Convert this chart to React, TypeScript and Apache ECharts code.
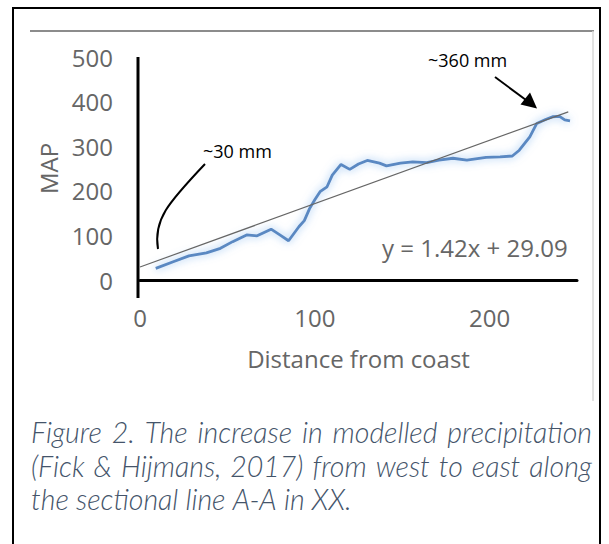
import React, { useEffect, useRef } from "react";
import * as echarts from "echarts";

// ---- data ----
const distance = [9, 19, 28, 38, 46, 53, 61, 67, 75, 80, 85, 91, 94, 97, 100, 103, 107, 110, 115, 120, 125, 130, 137, 141, 149, 156, 164, 171, 179, 187, 198, 206, 213, 217, 223, 227, 232, 236, 240, 243, 246];
const mapValues = [26, 41, 54, 61, 71, 86, 101, 99, 114, 101, 88, 120, 133, 160, 180, 198, 209, 235, 259, 248, 260, 268, 262, 256, 262, 265, 263, 269, 273, 269, 275, 276, 278, 291, 321, 351, 360, 366, 367, 359, 357];
const trendSlope = 1.42;
const trendIntercept = 29.09;
const trendRange = [0, 245];
const xTickLabels = ["0", "100", "200"];
const yTickLabels = ["0", "100", "200", "300", "400", "500"];
const equationText = "y = 1.42x + 29.09";
const lowNote = "~30 mm";
const highNote = "~360 mm";
const captionLines = [
  "Figure 2. The increase in modelled precipitation",
  "(Fick & Hijmans, 2017) from west to east along",
  "the sectional line A-A in XX.",
];

const CAPTION_FAMILY = "Lato";
const CAPTION_WEIGHT = 300;

function measureCtx(size: number) {
  const canvas = document.createElement("canvas");
  const ctx = canvas.getContext("2d") as CanvasRenderingContext2D;
  ctx.font = `italic ${CAPTION_WEIGHT} ${size}px ${CAPTION_FAMILY}`;
  return ctx;
}

function layoutLine(line: string, size: number, left: number, width: number, justify: boolean) {
  const ctx = measureCtx(size);
  const words = line.split(" ");
  const widths = words.map((w) => ctx.measureText(w).width);
  const total = widths.reduce((a, b) => a + b, 0);
  let gap = ctx.measureText(" ").width;
  if (justify && words.length > 1) gap = (width - total) / (words.length - 1);
  let x = left;
  return words.map((w, i) => {
    const item = { text: w, x };
    x += widths[i] + gap;
    return item;
  });
}

export default function App() {
  const ref = useRef<HTMLDivElement>(null);

  useEffect(() => {
    document.body.style.margin = "0";
    if (!ref.current) return;
    const chart = echarts.init(ref.current, undefined, { renderer: "svg" });

    const seriesData = distance.map((d, i) => [d, mapValues[i]]);
    const trendData = trendRange.map((x) => [x, trendSlope * x + trendIntercept]);

    // caption size chosen so the first line nearly fills the caption width
    const w100 = measureCtx(100).measureText(captionLines[0]).width;
    const capSize = Math.min(28.5, Math.max(18, (100 * 550) / w100));

    const captionY = [432, 466, 499];
    const captionTexts: any[] = [];
    captionLines.forEach((line, li) => {
      const words = layoutLine(line, capSize, 31, 561, li < captionLines.length - 1);
      words.forEach((w) => {
        captionTexts.push({
          type: "text",
          x: w.x,
          y: captionY[li],
          style: {
            text: w.text,
            fontSize: capSize,
            fontFamily: CAPTION_FAMILY,
            fontWeight: CAPTION_WEIGHT,
            fontStyle: "italic",
            fill: "#44546A",
            textAlign: "left",
            align: "left",
            textVerticalAlign: "middle",
            verticalAlign: "middle",
          },
        });
      });
    });

    const labelStyle = { color: "#666666", fontSize: 24, fontFamily: "Open Sans" };

    chart.setOption({
      animation: false,
      backgroundColor: "#ffffff",
      grid: { left: 140, right: 32, top: 57, bottom: 264, containLabel: false },
      xAxis: {
        type: "value",
        min: 0,
        max: 250,
        interval: 100,
        offset: 17,
        name: "Distance from coast",
        nameLocation: "middle",
        nameGap: 49,
        nameTextStyle: { color: "#666666", fontSize: 24, fontFamily: "Open Sans" },
        axisLine: { show: true, lineStyle: { color: "#000000", width: 3 } },
        axisTick: { show: false },
        splitLine: { show: false },
        axisLabel: {
          ...labelStyle,
          margin: 8,
          showMaxLabel: false,
          formatter: (v: number) => {
            const idx = xTickLabels.indexOf(String(v));
            return idx >= 0 ? xTickLabels[idx] : "";
          },
        },
      },
      yAxis: {
        type: "value",
        min: 0,
        max: 500,
        interval: 100,
        name: "MAP",
        nameLocation: "middle",
        nameGap: 80,
        nameRotate: 90,
        nameTextStyle: { color: "#666666", fontSize: 24, fontFamily: "Open Sans" },
        axisLine: { show: false },
        axisTick: { show: false },
        splitLine: { show: false },
        axisLabel: {
          ...labelStyle,
          margin: 27,
          formatter: (v: number) => {
            const idx = yTickLabels.indexOf(String(v));
            return idx >= 0 ? yTickLabels[idx] : "";
          },
        },
      },
      series: [
        {
          type: "line",
          name: "MAP",
          data: seriesData,
          showSymbol: false,
          symbol: "none",
          smooth: false,
          z: 2,
          lineStyle: {
            color: "#5a88c2",
            width: 2.8,
            shadowColor: "rgba(110,170,235,0.8)",
            shadowBlur: 8,
          },
        },
        {
          type: "line",
          name: "Trend",
          data: trendData,
          showSymbol: false,
          symbol: "none",
          z: 3,
          lineStyle: { color: "#666666", width: 1.2 },
        },
      ],
      graphic: [
        // outer black frame (no bottom edge visible)
        { type: "line", shape: { x1: 13, y1: 8, x2: 13, y2: 560 }, style: { stroke: "#000", lineWidth: 2 } },
        { type: "line", shape: { x1: 12, y1: 8, x2: 601, y2: 8 }, style: { stroke: "#000", lineWidth: 2 } },
        { type: "line", shape: { x1: 600, y1: 8, x2: 600, y2: 560 }, style: { stroke: "#000", lineWidth: 2 } },
        // chart picture edges
        { type: "line", shape: { x1: 30, y1: 31, x2: 594, y2: 31 }, style: { stroke: "#8c8c8c", lineWidth: 2 } },
        { type: "line", shape: { x1: 593, y1: 31, x2: 593, y2: 401 }, style: { stroke: "#d9d9d9", lineWidth: 1.5 } },
        // hand-drawn vertical axis
        { type: "line", shape: { x1: 138, y1: 57, x2: 138, y2: 298 }, style: { stroke: "#000", lineWidth: 3 } },
        // equation
        {
          type: "text",
          x: 382,
          y: 247,
          style: {
            text: equationText,
            fontSize: 24,
            fontFamily: "Open Sans",
            fill: "#666666",
            textAlign: "left",
            align: "left",
            textVerticalAlign: "middle",
            verticalAlign: "middle",
          },
        },
        // ~30 mm annotation
        {
          type: "text",
          x: 203,
          y: 151,
          style: {
            text: lowNote,
            fontSize: 18,
            fontFamily: "Open Sans",
            fill: "#000",
            textAlign: "left",
            align: "left",
            textVerticalAlign: "middle",
            verticalAlign: "middle",
          },
        },
        {
          type: "bezierCurve",
          shape: { x1: 205, y1: 164, cpx1: 168, cpy1: 203, cpx2: 153, cpy2: 220, x2: 158, y2: 249 },
          style: { stroke: "#000", lineWidth: 2, fill: "none" },
        },
        // ~360 mm annotation
        {
          type: "text",
          x: 428,
          y: 60,
          style: {
            text: highNote,
            fontSize: 18,
            fontFamily: "Open Sans",
            fill: "#000",
            textAlign: "left",
            align: "left",
            textVerticalAlign: "middle",
            verticalAlign: "middle",
          },
        },
        { type: "line", shape: { x1: 495, y1: 77, x2: 526, y2: 100 }, style: { stroke: "#000", lineWidth: 2 } },
        {
          type: "polygon",
          shape: { points: [[537, 108.5], [520.5, 104.5], [530, 92.5]] },
          style: { fill: "#000" },
        },
        ...captionTexts,
      ],
    });

    return () => chart.dispose();
  }, []);

  return <div ref={ref} style={{ width: 609, height: 544 }} />;
}
